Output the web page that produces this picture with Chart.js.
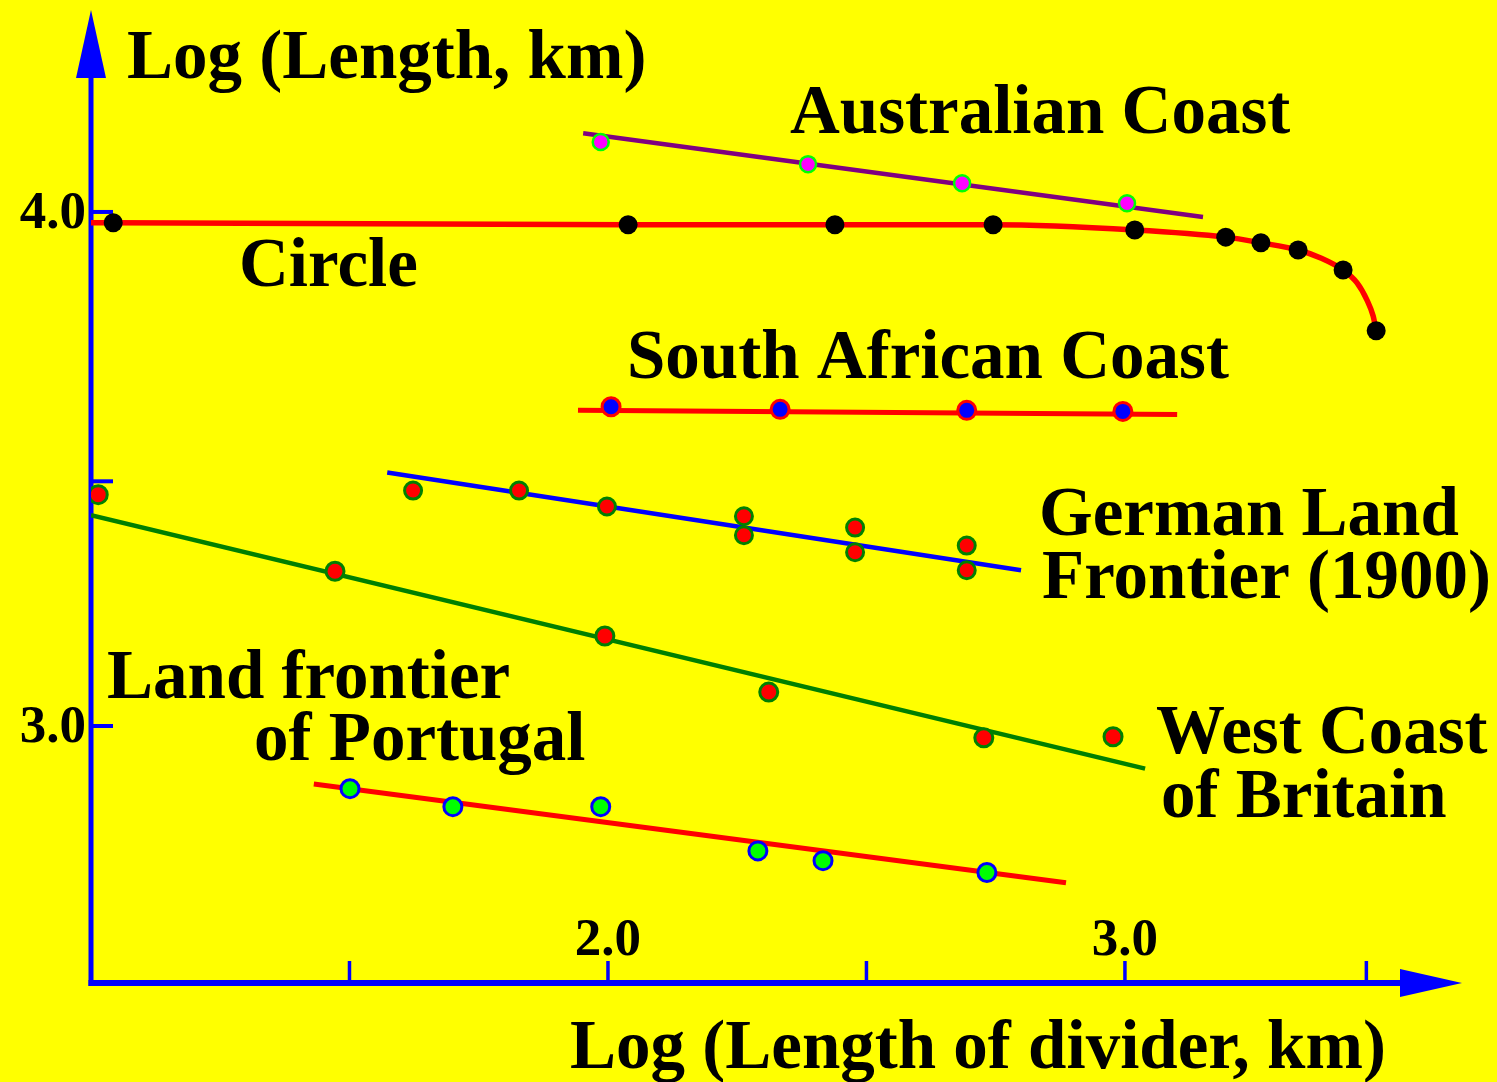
<!DOCTYPE html>
<html>
<head>
<meta charset="utf-8">
<script src="https://cdn.jsdelivr.net/npm/chart.js@4.4.1/dist/chart.umd.min.js"></script>
<style>
  html, body { margin: 0; padding: 0; background: #ffff00; overflow: hidden; }
  #wrap { width: 1497px; height: 1082px; }
</style>
</head>
<body>
<div id="wrap"><canvas id="c" width="1497" height="1082"></canvas></div>
<script>
// Richardson plot: log10(total length) against log10(divider step)

// Circle
const circleX = [1.043, 2.039, 2.439, 2.745, 3.019, 3.195, 3.263, 3.335, 3.422, 3.486];
const circleY = [3.979, 3.975, 3.975, 3.975, 3.965, 3.951, 3.940, 3.926, 3.887, 3.769];
const circleCurveX = [1.0, 1.043, 2.039, 2.439, 2.745, 3.019, 3.195, 3.263, 3.335, 3.380, 3.422, 3.449, 3.468, 3.480, 3.486];
const circleCurveY = [3.979, 3.979, 3.975, 3.975, 3.975, 3.965, 3.951, 3.940, 3.926, 3.910, 3.887, 3.862, 3.829, 3.798, 3.769];

// Australian coast
const ausX = [1.986, 2.387, 2.685, 3.004];
const ausY = [4.136, 4.093, 4.056, 4.017];
const ausFitX = [1.952, 3.151];
const ausFitY = [4.153, 3.990];

// South African coast
const safX = [2.006, 2.333, 2.694, 2.996];
const safY = [3.621, 3.616, 3.614, 3.612];
const safFitX = [1.942, 3.101];
const safFitY = [3.614, 3.606];

// German land frontier (1900)
const gerX = [1.623, 1.828, 1.998, 2.263, 2.263, 2.478, 2.478, 2.694, 2.694];
const gerY = [3.458, 3.458, 3.427, 3.408, 3.371, 3.386, 3.338, 3.351, 3.303];
const gerFitX = [1.573, 2.799];
const gerFitY = [3.493, 3.303];

// West coast of Britain
const britX = [1.014, 1.472, 1.994, 2.311, 2.727, 2.977];
const britY = [3.450, 3.301, 3.175, 3.066, 2.977, 2.979];
const britFitX = [1.0, 3.039];
const britFitY = [3.410, 2.917];

// Land frontier of Portugal
const porX = [1.501, 1.700, 1.986, 2.290, 2.416, 2.733];
const porY = [2.878, 2.843, 2.843, 2.757, 2.738, 2.715];
const porFitX = [1.431, 2.886];
const porFitY = [2.887, 2.695];

// Axis ticks
const xTickValues = [1.5, 2.0, 2.5, 3.0, 3.467];
const xTickLabels = ['', '2.0', '', '3.0', ''];
const yTickValues = [4.0, 3.476, 3.0];
const yTickLabels = ['4.0', '', '3.0'];

const xTitle = 'Log (Length of divider, km)';
const yTitle = 'Log (Length, km)';

const pts = (xs, ys) => xs.map((x, i) => ({ x, y: ys[i] }));

function lineSet(xs, ys, color, width, extra) {
  return Object.assign({
    data: pts(xs, ys), showLine: true, borderColor: color, borderWidth: width,
    pointRadius: 0, pointHoverRadius: 0, fill: false, order: 2
  }, extra || {});
}
function dotSet(xs, ys, fillColor, edgeColor, r, edgeWidth) {
  return {
    data: pts(xs, ys), showLine: false, backgroundColor: fillColor,
    borderColor: edgeColor, borderWidth: edgeWidth, pointRadius: r,
    pointHoverRadius: r, order: 1
  };
}

const SERIF = '"Liberation Serif", "Times New Roman", serif';
const BLUE = '#0000ff';

// Axes with arrows, inward tick marks, tick labels, titles and series labels
const axesPlugin = {
  id: 'axes',
  beforeDatasetsDraw(chart) {
    const { ctx, scales: { x, y } } = chart;
    const x0 = x.getPixelForValue(x.min);
    const y0 = y.getPixelForValue(y.min);
    const xEnd = x.getPixelForValue(x.max);
    const yEnd = y.getPixelForValue(y.max);
    ctx.save();
    ctx.fillStyle = BLUE;
    ctx.strokeStyle = BLUE;
    // y axis
    ctx.lineWidth = 5;
    ctx.beginPath();
    ctx.moveTo(x0, y0 + 3);
    ctx.lineTo(x0, yEnd + 60);
    ctx.stroke();
    ctx.beginPath();
    ctx.moveTo(x0, yEnd - 2);
    ctx.lineTo(x0 - 15, yEnd + 66);
    ctx.lineTo(x0 + 15, yEnd + 66);
    ctx.closePath();
    ctx.fill();
    // x axis
    ctx.lineWidth = 6;
    ctx.beginPath();
    ctx.moveTo(x0 - 2.5, y0);
    ctx.lineTo(xEnd - 55, y0);
    ctx.stroke();
    ctx.beginPath();
    ctx.moveTo(xEnd, y0);
    ctx.lineTo(xEnd - 62, y0 - 14);
    ctx.lineTo(xEnd - 62, y0 + 14);
    ctx.closePath();
    ctx.fill();
    // tick marks
    ctx.lineWidth = 4;
    yTickValues.forEach(v => {
      const py = y.getPixelForValue(v);
      ctx.beginPath();
      ctx.moveTo(x0, py);
      ctx.lineTo(x0 + 22, py);
      ctx.stroke();
    });
    ctx.lineWidth = 3.5;
    xTickValues.forEach(v => {
      const px = x.getPixelForValue(v);
      ctx.beginPath();
      ctx.moveTo(px, y0);
      ctx.lineTo(px, y0 - 22);
      ctx.stroke();
    });
    ctx.restore();
  },
  afterDatasetsDraw(chart) {
    const { ctx, scales: { x, y } } = chart;
    const x0 = x.getPixelForValue(x.min);
    const y0 = y.getPixelForValue(y.min);
    ctx.save();
    ctx.fillStyle = '#000';
    ctx.textBaseline = 'alphabetic';
    // tick labels
    ctx.font = 'bold 53px ' + SERIF;
    ctx.textAlign = 'center';
    xTickValues.forEach((v, i) => {
      if (xTickLabels[i]) ctx.fillText(xTickLabels[i], x.getPixelForValue(v), y0 - 28);
    });
    ctx.textAlign = 'right';
    yTickValues.forEach((v, i) => {
      if (yTickLabels[i]) ctx.fillText(yTickLabels[i], x0 - 5, y.getPixelForValue(v) + 16);
    });
    // axis titles
    ctx.font = 'bold 69px ' + SERIF;
    ctx.textAlign = 'left';
    ctx.fillText(yTitle, 127, 78);
    ctx.fillText(xTitle, 570, 1068);
    // series labels
    const labels = [
      ['Australian Coast', 790, 133],
      ['Circle', 239, 286],
      ['South African Coast', 627, 378],
      ['German Land', 1039, 535],
      ['Frontier (1900)', 1042, 598],
      ['Land frontier', 107, 698],
      ['of Portugal', 254, 760],
      ['West Coast', 1156, 753],
      ['of Britain', 1161, 817]
    ];
    labels.forEach(([t, lx, ly]) => ctx.fillText(t, lx, ly));
    ctx.restore();
  }
};

new Chart(document.getElementById('c'), {
  type: 'scatter',
  data: {
    datasets: [
      lineSet(circleCurveX, circleCurveY, '#ff0000', 5.5, { cubicInterpolationMode: 'monotone' }),
      dotSet(circleX, circleY, '#000000', '#000000', 9.5, 0),
      lineSet(ausFitX, ausFitY, '#800080', 4.5),
      dotSet(ausX, ausY, '#ff00ff', '#00ff00', 8, 2.5),
      lineSet(safFitX, safFitY, '#ff0000', 5),
      dotSet(safX, safY, '#0000ff', '#ff0000', 9, 3),
      lineSet(gerFitX, gerFitY, '#0000ff', 4.5),
      dotSet(gerX, gerY, '#ff0000', '#008000', 8.5, 3),
      lineSet(britFitX, britFitY, '#008000', 4.5),
      dotSet(britX, britY, '#ff0000', '#008000', 9, 3),
      lineSet(porFitX, porFitY, '#ff0000', 5),
      dotSet(porX, porY, '#00ff00', '#0000ff', 9, 3)
    ]
  },
  options: {
    responsive: false,
    animation: false,
    devicePixelRatio: 1,
    layout: { padding: { left: 91, right: 35, top: 10, bottom: 99 } },
    plugins: { legend: { display: false }, tooltip: { enabled: false } },
    scales: {
      x: { type: 'linear', min: 1.0, max: 3.652, display: false },
      y: { type: 'linear', min: 2.5, max: 4.389, display: false }
    },
    events: []
  },
  plugins: [axesPlugin]
});
</script>
</body>
</html>
